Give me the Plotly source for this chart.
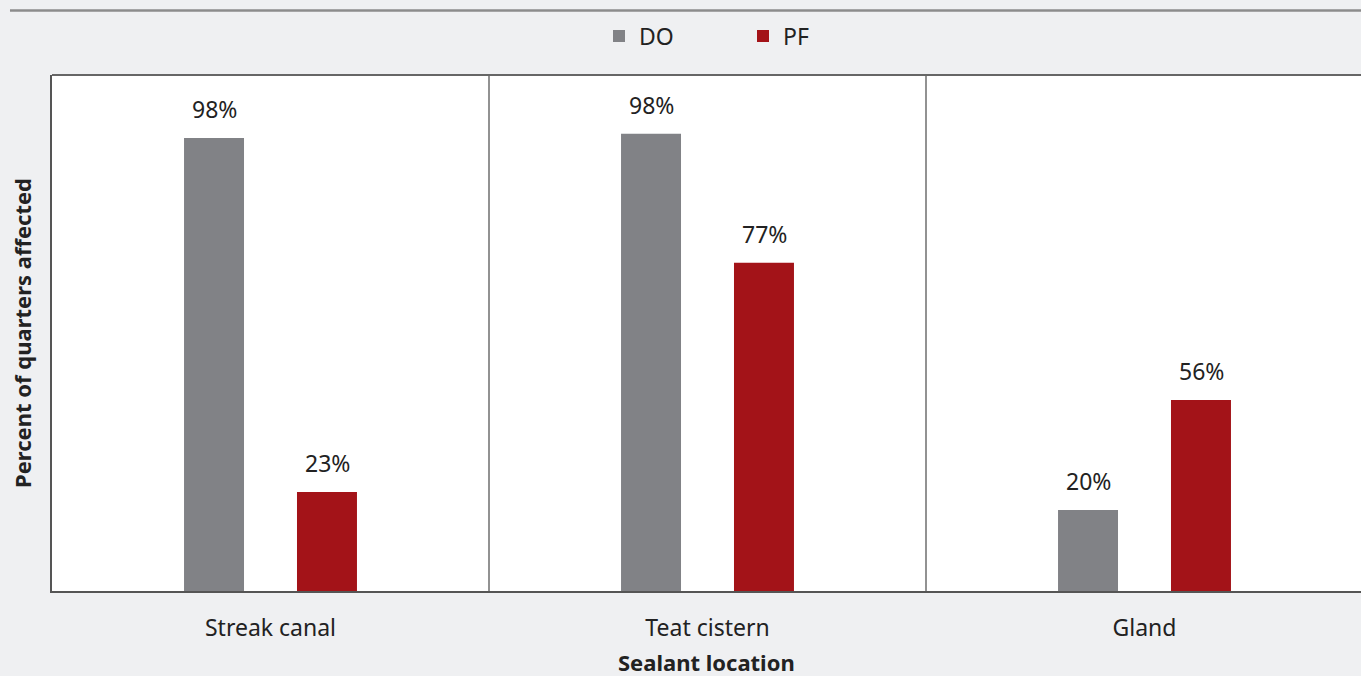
import plotly.graph_objects as go

categories = ["Streak canal", "Teat cistern", "Gland"]
series_names = ["DO", "PF"]
do_values = [98.0, 98.9, 17.5]   # bar heights
pf_values = [21.4, 71.0, 41.3]
do_labels = ["98%", "98%", "20%"]
pf_labels = ["23%", "77%", "56%"]
x_title = "Sealant location"
y_title = "Percent of quarters affected"

GRAY = "#818286"
RED = "#a31318"
BG = "#eff0f2"
FONT = "Noto Sans"
FS = 23

fig = go.Figure()
fig.add_trace(go.Bar(name=series_names[0], x=categories, y=do_values,
                     marker=dict(color=GRAY, line=dict(width=0))))
fig.add_trace(go.Bar(name=series_names[1], x=categories, y=pf_values,
                     marker=dict(color=RED, line=dict(width=0))))

# value labels above bars
for vals, labs, shift in ((do_values, do_labels, -56.5), (pf_values, pf_labels, 56.5)):
    for c, v, t in zip(categories, vals, labs):
        fig.add_annotation(x=c, y=v, text=t, showarrow=False, xshift=shift,
                           yanchor="bottom", yshift=11,
                           font=dict(family=FONT, size=FS, color="#222"))

# x-axis title
fig.add_annotation(x=0.5, y=(591 - 662) / 516, xref="paper", yref="paper",
                   text=f"<b>{x_title}</b>", showarrow=False, yanchor="middle",
                   font=dict(family=FONT, size=22, color="#222"))

# category separators
for i in range(1, len(categories)):
    fig.add_shape(type="line", xref="x", yref="paper", x0=i - 0.5, x1=i - 0.5,
                  y0=0, y1=1, line=dict(color="#6e6e6e", width=1.5))
# top border of plot
fig.add_shape(type="line", xref="paper", yref="paper", x0=0, x1=1, y0=1, y1=1,
              line=dict(color="#666666", width=2))
# top decorative rule
fig.add_shape(type="line", xref="paper", yref="paper", x0=-0.0321, x1=1.01,
              y0=1.125, y1=1.125, line=dict(color="#8c8c8c", width=2.5))

fig.update_layout(
    width=1361, height=676,
    paper_bgcolor=BG, plot_bgcolor="white",
    margin=dict(l=52, r=0, t=75, b=85, autoexpand=False),
    barmode="group", bargap=0.483, bargroupgap=0.469,
    font=dict(family=FONT, size=FS, color="#222"),
    showlegend=True,
    legend=dict(orientation="h", x=(599 - 52) / 1309, xanchor="left",
                y=(591 - 36) / 516, yanchor="middle",
                font=dict(family=FONT, size=FS, color="#222"),
                itemwidth=30, entrywidth=99, itemsizing="constant",
                bgcolor="rgba(0,0,0,0)"),
    xaxis=dict(range=[-0.5, -0.5 + 1309 / 437], showgrid=False, zeroline=False,
               showline=True, linecolor="#555555", linewidth=2,
               ticks="outside", ticklen=15, tickcolor="rgba(0,0,0,0)",
               tickfont=dict(family=FONT, size=FS, color="#222")),
    yaxis=dict(range=[0, 111.6], showgrid=False, zeroline=False,
               showticklabels=False, showline=True, linecolor="#555555", linewidth=2,
               ticks="",
               title=dict(text=f"<b>{y_title}</b>", standoff=12,
                          font=dict(family=FONT, size=22, color="#222"))),
)

fig.write_html("out.html", config={"displayModeBar": False},
               post_script="document.body.style.margin='0';")
